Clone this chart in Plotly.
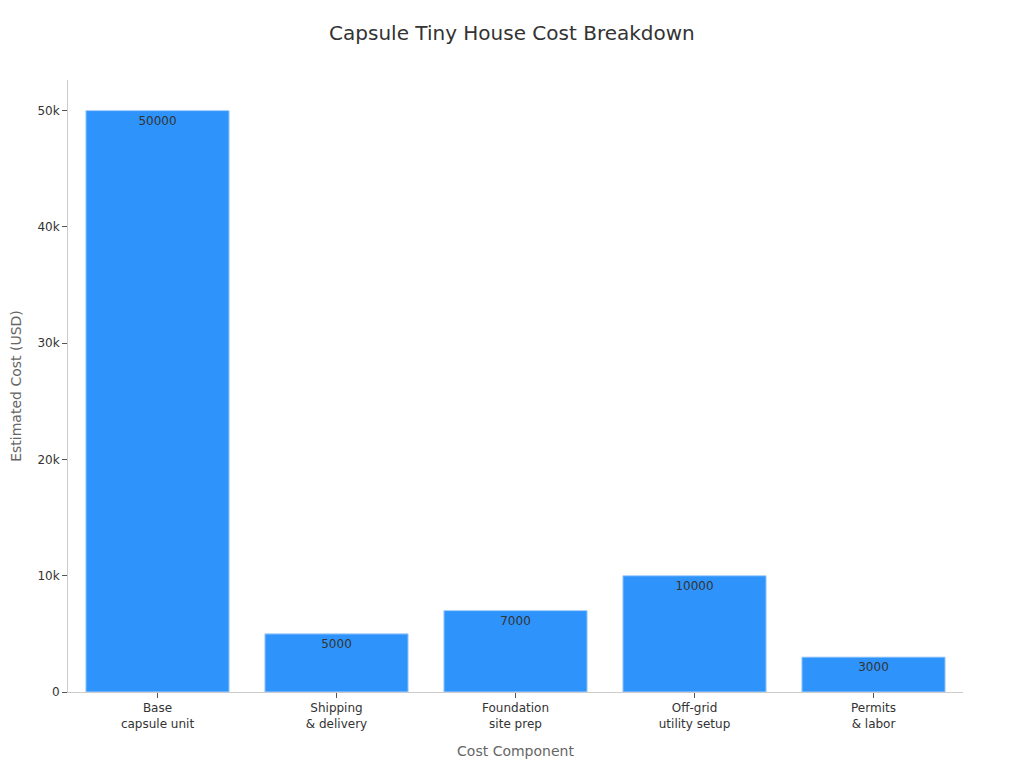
import plotly.graph_objects as go

categories = ["Base<br>capsule unit", "Shipping<br>& delivery", "Foundation<br>site prep",
              "Off-grid<br>utility setup", "Permits<br>& labor"]
costs = [50000, 5000, 7000, 10000, 3000]

fig = go.Figure()
fig.add_trace(go.Bar(
    x=categories, y=costs,
    text=[str(c) for c in costs],
    textposition="inside", insidetextanchor="end",
    textfont=dict(color="#333333", size=12),
    marker=dict(color="#2E93FA", line=dict(color="#A8D0FB", width=1)),
))

# page has an 8px body margin, so the figure is a bit smaller than the window
fig.update_layout(
    title=dict(text="Capsule Tiny House Cost Breakdown", x=0.496, xanchor="center",
               y=0.967, yanchor="middle",
               font=dict(size=20, color="#333333")),
    font=dict(family="DejaVu Sans", size=12, color="#333333"),
    width=1016, height=760,
    margin=dict(l=60, r=61, t=72, b=76),
    plot_bgcolor="white", paper_bgcolor="white",
    bargap=0.2, showlegend=False,
    xaxis=dict(title=dict(text="Cost Component", font=dict(size=14, color="#666666"), standoff=16),
               showline=True, linecolor="#CCCCCC", ticks="outside", tickcolor="#555555",
               ticklen=5, showgrid=False, automargin=False),
    yaxis=dict(title=dict(text="Estimated Cost (USD)", font=dict(size=14, color="#666666"), standoff=19),
               showline=True, linecolor="#CCCCCC", ticks="outside", tickcolor="#555555",
               ticklen=5, showgrid=False, zeroline=False, automargin=False,
               tickvals=[0, 10000, 20000, 30000, 40000, 50000],
               ticktext=["0", "10k", "20k", "30k", "40k", "50k"]),
)

fig.write_html("out.html")
